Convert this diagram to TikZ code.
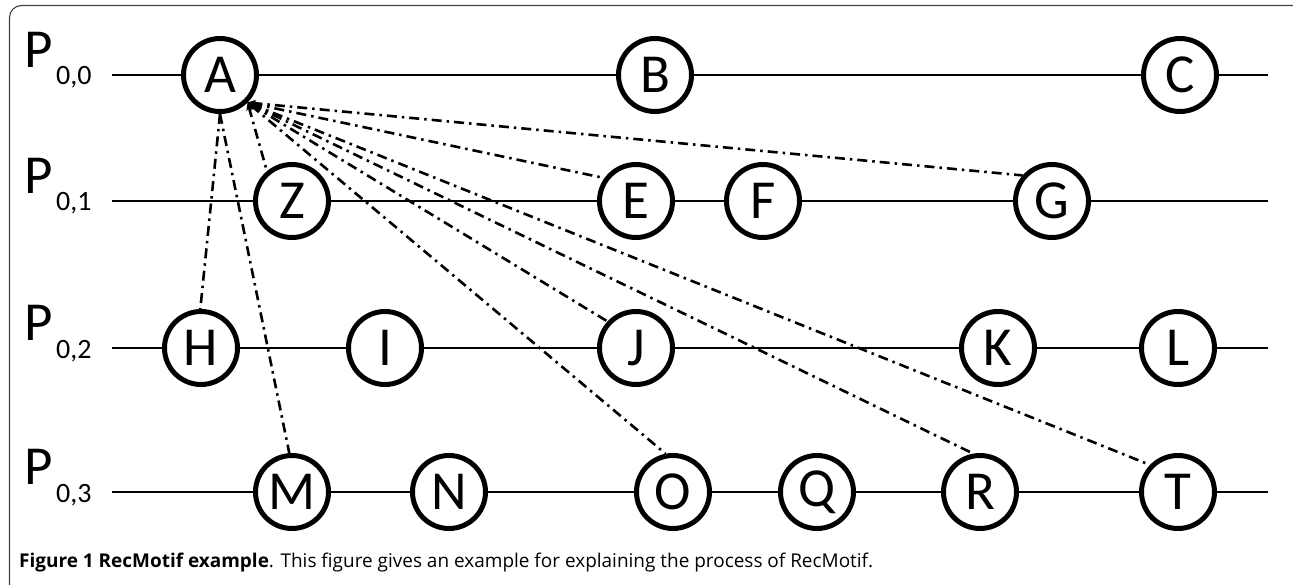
\documentclass[tikz,border=0pt]{standalone}
\usepackage{fontspec}
\setmainfont{Carlito}
\newfontfamily\capfont{Open Sans}
\usetikzlibrary{arrows.meta}

\tikzset{
  track/.style={line width=2.2pt},
  state/.style={circle, draw, line width=5pt, fill=white, minimum size=73pt,
    inner sep=0pt, font=\fontsize{55}{55}\selectfont},
  link/.style={line width=2.6pt, dash pattern=on 10pt off 5pt on 2.5pt off 5pt},
  tiplink/.style={link, {Stealth[length=8pt,width=7pt]}-},
  pmain/.style={anchor=south west, inner sep=0pt, font=\fontsize{55}{55}\selectfont},
  psub/.style={anchor=base west, inner sep=0pt, font=\fontsize{28}{28}\selectfont},
  frame/.style={draw=black!75, line width=1.1pt, rounded corners=12pt}
}

\begin{document}
\begin{tikzpicture}[x=1pt,y=-1pt]
\useasboundingbox (0,0) rectangle (1293,585);

% outer frame
\draw[frame] (9.5,5.5) rectangle (1305,600);

% row labels: P with a lowered index
\foreach \r/\y in {0/75,1/201,2/348,3/492}{
  \node[pmain] (p\r) at (24,\y-7) {P};
  \node[psub] (q\r) at (56,\y+10) {0,\r};
}

% process time lines
\foreach \r/\y in {0/75,1/201,2/348,3/492}{
  \coordinate (s\r) at (112,\y);
  \coordinate (e\r) at (1268,\y);
  \draw[track] (s\r) -- (e\r);
}

% events on P0,0
\node[state] (A) at (220,75) {A};
\node[state] (B) at (655,75) {B};
\node[state] (C) at (1180,75) {C};
% events on P0,1
\node[state] (Z) at (292,201) {Z};
\node[state] (E) at (636,201) {E};
\node[state] (F) at (763,201) {F};
\node[state] (G) at (1052,201) {G};
% events on P0,2
\node[state] (H) at (201,348) {H};
\node[state] (I) at (385,348) {I};
\node[state] (J) at (636,348) {J};
\node[state] (K) at (998,348) {K};
\node[state] (L) at (1178,348) {L};
% events on P0,3
\node[state] (M) at (292,492) {M};
\node[state] (N) at (449,492) {N};
\node[state] (O) at (673,492) {O};
\node[state] (Q) at (817,492) {Q};
\node[state] (R) at (980,492) {R};
\node[state] (T) at (1178,492) {T};

% dependencies of A
\draw[link] (A.south) -- (H.91);
\draw[link] (A.south) -- (M.94);
\draw[tiplink] (A.south east) -- (Z.130);
\draw[tiplink] (A.south east) -- (E.144);
\draw[tiplink] (A.south east) -- (G.139);
\draw[tiplink] (A.south east) -- (J.137);
\draw[tiplink] (A.south east) -- (O.101);
\draw[tiplink] (A.south east) -- (R.100);
\draw[tiplink] (A.south east) -- (T.136);

% caption
\node[anchor=base west, inner sep=0pt, font=\capfont\fontsize{18}{22}\selectfont] (cap) at (19,567)
  {\resizebox{854pt}{!}{\textbf{Figure 1 RecMotif example}. This figure gives an example for explaining the process of RecMotif.}};
\end{tikzpicture}
\end{document}
